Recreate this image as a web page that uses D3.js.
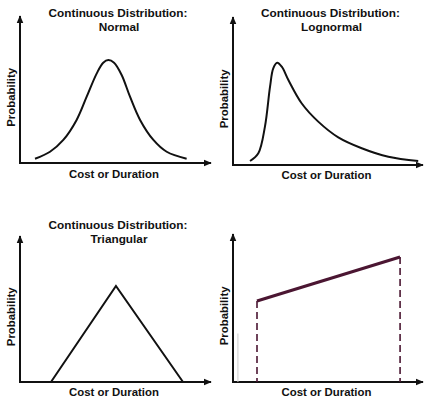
<!DOCTYPE html>
<html>
<head>
<meta charset="utf-8">
<script src="https://cdn.jsdelivr.net/npm/d3@7"></script>
<style>
  html, body { margin: 0; padding: 0; background: #fff; }
  svg { display: block; }
  text { font-family: "Liberation Sans", Arial, sans-serif; font-weight: bold; fill: #111; }
</style>
</head>
<body>
<div id="chart"></div>
<script>
// values, in percent of each panel's axis length
const normalX = [7.9, 15.8, 22.8, 29.8, 35.1, 40.4, 43.8, 46.5, 49.5, 53.5, 57.9, 63.2, 70.2, 77.2, 87.7];
const normalY = [2.9, 7.7, 15.8, 29.5, 45.4, 61.4, 68.7, 70.5, 68.7, 60.3, 45.4, 29.5, 15.8, 7.7, 2.9];

const lognormalX = [9.0, 13.4, 16.9, 19.6, 21.3, 23.4, 25.8, 29.3, 36.3, 45.1, 55.7, 68.1, 82.2, 98.0];
const lognormalY = [2.7, 8.0, 26.1, 53.3, 65.8, 69.6, 66.9, 57.8, 42.0, 29.5, 18.8, 11.4, 5.6, 2.7];

const triangularX = [16.3, 50.5, 85.8];
const triangularY = [0, 66.2, 0];

const uniformX = [12.7, 88.4];
const uniformY = [55.1, 85];

const titles = [
  ['Continuous Distribution:', 'Normal'],
  ['Continuous Distribution:', 'Lognormal'],
  ['Continuous Distribution:', 'Triangular'],
  []
];
const xLabel = 'Cost or Duration';
const yLabel = 'Probability';

const width = 424, height = 400;

const svg = d3.select('#chart')
   .append('svg')
   .attr('width', width)
   .attr('height', height);

const defs = svg.append('defs');
defs.append('marker')
   .attr('id', 'arrow')
   .attr('viewBox', '0 0 10 10')
   .attr('refX', 9)
   .attr('refY', 5)
   .attr('markerUnits', 'userSpaceOnUse')
   .attr('markerWidth', 8)
   .attr('markerHeight', 8)
   .attr('orient', 'auto')
   .append('path')
   .attr('d', 'M0,0.8 L10,5 L0,9.2 Z')
   .attr('fill', '#111');

// panel frames: origin of the axes and their lengths
const panels = [
   { ox: 20, oy: 163, w: 190, h: 146, titleY: 17, labelY: 178 },
   { ox: 233, oy: 165, w: 189, h: 147, titleY: 17, labelY: 179 },
   { ox: 20, oy: 382, w: 190, h: 145, titleY: 229, labelY: 396 },
   { ox: 233, oy: 382, w: 189, h: 147, titleY: 229, labelY: 396 },
];

const series = [
   { x: normalX, y: normalY, curve: d3.curveCatmullRom.alpha(0.5) },
   { x: lognormalX, y: lognormalY, curve: d3.curveCatmullRom.alpha(0.5) },
   { x: triangularX, y: triangularY, curve: d3.curveLinear },
   { x: uniformX, y: uniformY, curve: d3.curveLinear },
];

panels.forEach((p, i) => {
   const g = svg.append('g').attr('class', `panel panel-${i}`);

   const xScale = d3.scaleLinear().domain([0, 100]).range([p.ox, p.ox + p.w]);
   const yScale = d3.scaleLinear().domain([0, 100]).range([p.oy, p.oy - p.h]);

   // axes with arrow heads
   g.append('line')
      .attr('x1', xScale(0) - 1)
      .attr('y1', yScale(0))
      .attr('x2', xScale(100) + 1)
      .attr('y2', yScale(0))
      .attr('stroke', '#111')
      .attr('stroke-width', 2)
      .attr('marker-end', 'url(#arrow)');
   g.append('line')
      .attr('x1', xScale(0))
      .attr('y1', yScale(0) + 1)
      .attr('x2', xScale(0))
      .attr('y2', yScale(100) - 1)
      .attr('stroke', '#111')
      .attr('stroke-width', 2)
      .attr('marker-end', 'url(#arrow)');

   // titles
   const cx = p.ox + p.w / 2 + 3;
   titles[i].forEach((t, j) => {
      g.append('text')
         .attr('x', cx + (j ? 1 : 0))
         .attr('y', p.titleY + j * 14)
         .attr('text-anchor', 'middle')
         .attr('font-size', '11.8px')
         .text(t);
   });

   g.append('text')
      .attr('x', p.ox + p.w / 2 - 1)
      .attr('y', p.labelY)
      .attr('text-anchor', 'middle')
      .attr('font-size', '11.4px')
      .text(xLabel);

   g.append('text')
      .attr('transform', `translate(${p.ox - 5},${p.oy - p.h * 0.45}) rotate(-90)`)
      .attr('text-anchor', 'middle')
      .attr('font-size', '11.4px')
      .text(yLabel);

   const s = series[i];
   const pts = s.x.map((x, k) => [x, s.y[k]]);
   const line = d3.line()
      .x((d) => xScale(d[0]))
      .y((d) => yScale(d[1]))
      .curve(s.curve);

   if (i === 3) {
      // faint guide left in the source image
      g.append('line')
         .attr('x1', xScale(2.6))
         .attr('x2', xScale(2.6))
         .attr('y1', yScale(0))
         .attr('y2', yScale(33))
         .attr('stroke', '#ccc')
         .attr('stroke-width', 1);

      g.selectAll('.drop')
         .data(pts)
         .join('line')
         .attr('class', 'drop')
         .attr('x1', (d) => xScale(d[0]))
         .attr('x2', (d) => xScale(d[0]))
         .attr('y1', (d) => yScale(d[1]))
         .attr('y2', yScale(0))
         .attr('stroke', '#4b1632')
         .attr('stroke-width', 1.6)
         .attr('stroke-dasharray', '7,4');

      g.append('path')
         .datum(pts)
         .attr('d', line)
         .attr('fill', 'none')
         .attr('stroke', '#4b1632')
         .attr('stroke-width', 3);
   } else {
      g.append('path')
         .datum(pts)
         .attr('d', line)
         .attr('fill', 'none')
         .attr('stroke', '#111')
         .attr('stroke-width', 2)
         .attr('stroke-linejoin', 'miter');
   }
});
</script>
</body>
</html>
